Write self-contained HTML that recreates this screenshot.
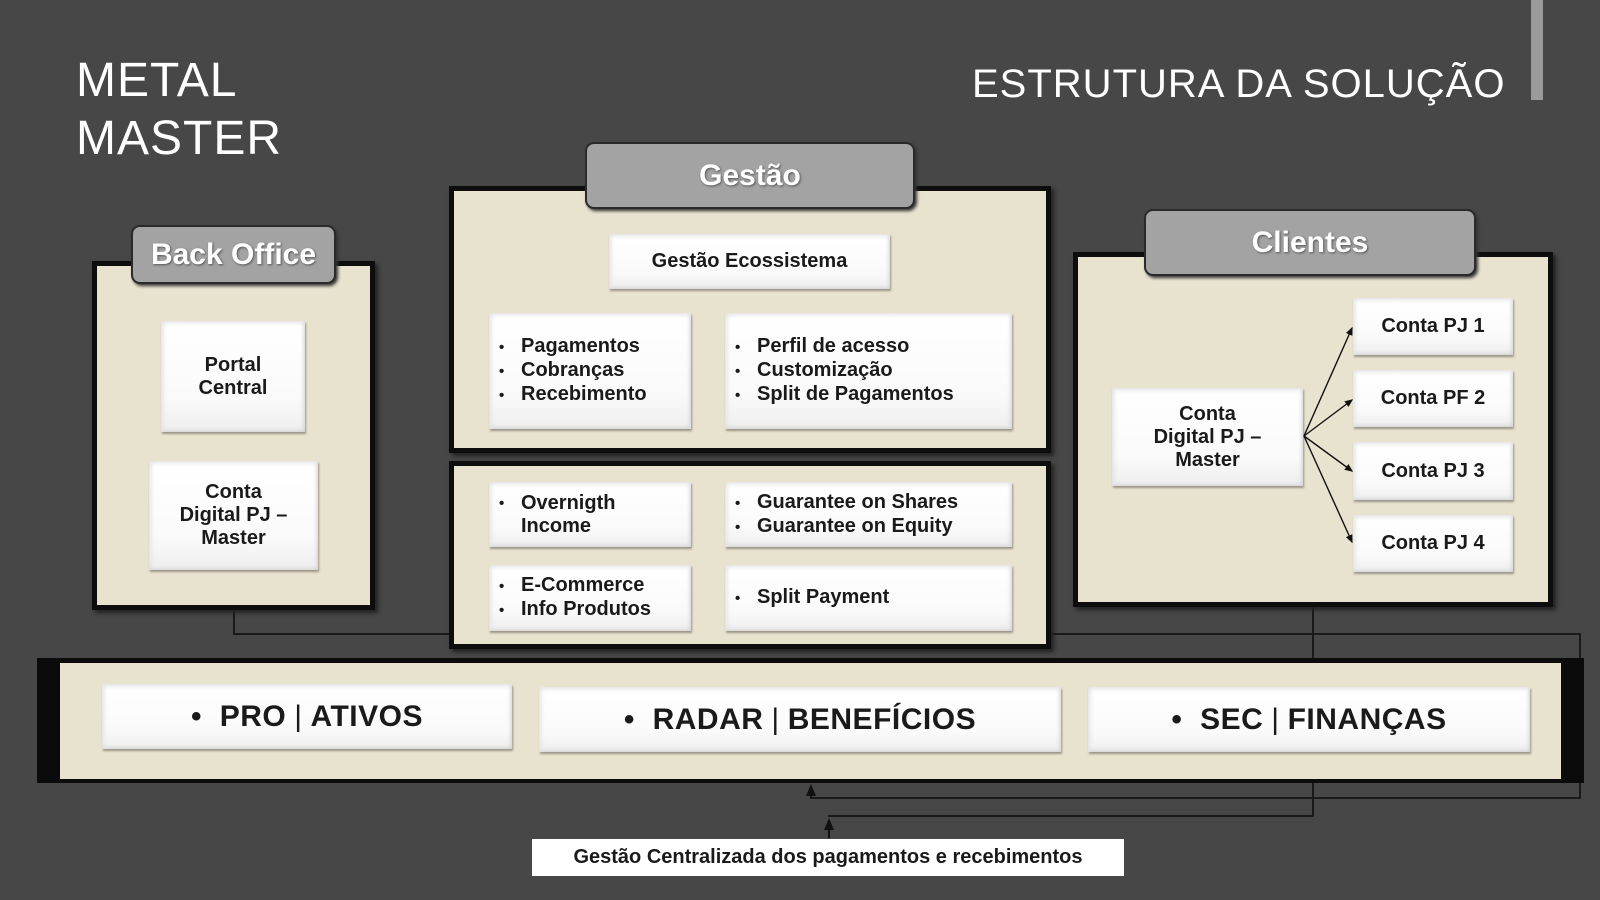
<!DOCTYPE html>
<html><head><meta charset="utf-8"><style>
*{margin:0;padding:0;box-sizing:border-box}
body{width:1600px;height:900px;background:#474747;position:relative;overflow:hidden;font-family:"Liberation Sans",sans-serif}
.a{position:absolute}
.panel{position:absolute;background:#e8e3cf;border:5px solid #0d0d0d;box-shadow:3px 3px 4px #222}
.tab{position:absolute;background:#a3a3a3;border:2px solid #2a2a2a;border-radius:9px;color:#fff;font-weight:bold;display:flex;align-items:center;justify-content:center;text-shadow:1px 1px 2px #555;box-shadow:2px 2px 3px #333}
.box{position:absolute;background:linear-gradient(180deg,#fff 0%,#fafafa 70%,#eee 100%);box-shadow:inset 4px 4px 5px -2px #e2e2e2,inset -3px -3px 4px -2px #cfcfcf,1px 2px 2px #9a9588;color:#1a1a1a;font-weight:bold;font-size:20px;display:flex;align-items:center;justify-content:center;text-align:center;line-height:23px}
.box ul{list-style:none;text-align:left;width:100%;padding-left:10px}
.box li:before{content:"•";display:inline-block;width:22px;font-size:15px}
.big{font-size:30px;letter-spacing:.5px}
.line{position:absolute;background:#1a1a1a}
</style></head><body>
<div class="a" style="left:1531px;top:0;width:12px;height:100px;background:#9b9b9b"></div>
<div class="a" style="left:76px;top:52px;color:#fff;font-size:48px;line-height:58px;font-weight:300;letter-spacing:1px">METAL<br>MASTER</div>
<div class="a" style="left:972px;top:62px;color:#fff;font-size:40px;letter-spacing:1px;font-weight:300">ESTRUTURA DA SOLUÇÃO</div>

<div class="line" style="left:233px;top:608px;width:2px;height:27px"></div>
<div class="line" style="left:233px;top:633px;width:218px;height:2px"></div>
<div class="line" style="left:1051px;top:633px;width:530px;height:2px"></div>
<div class="line" style="left:1579px;top:633px;width:2px;height:166px"></div>
<div class="line" style="left:1312px;top:606px;width:2px;height:54px"></div>
<div class="line" style="left:810px;top:797px;width:771px;height:2px"></div>
<div class="line" style="left:1312px;top:780px;width:2px;height:37px"></div>
<div class="line" style="left:828px;top:815px;width:486px;height:2px"></div>
<svg class="a" style="left:0;top:0" width="1600" height="900">
<defs><marker id="ar" markerWidth="6" markerHeight="6" refX="5" refY="3" orient="auto"><path d="M0,0.5 L6,3 L0,5.5z" fill="#111"/></marker></defs>
<line x1="811" y1="798" x2="811" y2="786" stroke="#111" stroke-width="2" marker-end="url(#ar)"/>
<line x1="829" y1="838" x2="829" y2="820" stroke="#111" stroke-width="2" marker-end="url(#ar)"/>
</svg>

<div class="panel" style="left:92px;top:261px;width:283px;height:349px"></div>
<div class="tab" style="left:131px;top:225px;width:205px;height:59px;font-size:30px">Back Office</div>
<div class="box" style="left:161px;top:321px;width:144px;height:111px">Portal<br>Central</div>
<div class="box" style="left:149px;top:461px;width:169px;height:109px">Conta<br>Digital PJ –<br>Master</div>

<div class="panel" style="left:449px;top:186px;width:602px;height:267px"></div>
<div class="tab" style="left:585px;top:142px;width:330px;height:67px;font-size:30px">Gestão</div>
<div class="box" style="left:609px;top:234px;width:281px;height:55px">Gestão Ecossistema</div>
<div class="box" style="left:489px;top:313px;width:202px;height:116px"><ul><li>Pagamentos</li><li>Cobranças</li><li>Recebimento</li></ul></div>
<div class="box" style="left:725px;top:313px;width:287px;height:116px"><ul><li>Perfil de acesso</li><li>Customização</li><li>Split de Pagamentos</li></ul></div>

<div class="panel" style="left:449px;top:461px;width:602px;height:188px"></div>
<div class="box" style="left:489px;top:482px;width:202px;height:65px;justify-content:flex-start;padding-left:10px"><div style="display:flex;text-align:left"><span style="width:22px;font-size:15px">•</span><span>Overnigth<br>Income</span></div></div>
<div class="box" style="left:725px;top:482px;width:287px;height:65px"><ul><li>Guarantee on Shares</li><li>Guarantee on Equity</li></ul></div>
<div class="box" style="left:489px;top:565px;width:202px;height:66px"><ul><li>E-Commerce</li><li>Info Produtos</li></ul></div>
<div class="box" style="left:725px;top:565px;width:287px;height:66px"><ul><li>Split Payment</li></ul></div>

<div class="panel" style="left:1073px;top:252px;width:480px;height:355px"></div>
<div class="tab" style="left:1144px;top:209px;width:332px;height:67px;font-size:30px">Clientes</div>
<div class="box" style="left:1112px;top:388px;width:191px;height:98px">Conta<br>Digital PJ –<br>Master</div>
<div class="box" style="left:1353px;top:298px;width:160px;height:57px">Conta PJ 1</div>
<div class="box" style="left:1353px;top:370px;width:160px;height:57px">Conta PF 2</div>
<div class="box" style="left:1353px;top:442px;width:160px;height:58px">Conta PJ 3</div>
<div class="box" style="left:1353px;top:515px;width:160px;height:57px">Conta PJ 4</div>
<svg class="a" style="left:0;top:0" width="1600" height="900">
<g stroke="#111" stroke-width="1.4" marker-end="url(#ar)">
<line x1="1304" y1="436" x2="1352" y2="328"/>
<line x1="1304" y1="436" x2="1352" y2="400"/>
<line x1="1304" y1="436" x2="1352" y2="471"/>
<line x1="1304" y1="436" x2="1352" y2="542"/>
</g></svg>

<div class="a" style="left:37px;top:658px;width:1547px;height:125px;background:#0b0b0b"></div>
<div class="a" style="left:60px;top:663px;width:1501px;height:116px;background:#e8e3cf"></div>
<div class="box big" style="left:102px;top:684px;width:410px;height:65px">•&nbsp; PRO <span style="font-weight:normal;margin:0 8px">|</span> ATIVOS</div>
<div class="box big" style="left:539px;top:687px;width:522px;height:65px">•&nbsp; RADAR <span style="font-weight:normal;margin:0 8px">|</span> BENEFÍCIOS</div>
<div class="box big" style="left:1088px;top:687px;width:442px;height:65px">•&nbsp; SEC <span style="font-weight:normal;margin:0 8px">|</span> FINANÇAS</div>

<div class="a" style="left:532px;top:839px;width:592px;height:37px;background:#fff;color:#1a1a1a;font-weight:bold;font-size:20px;display:flex;align-items:center;justify-content:center">Gestão Centralizada dos pagamentos e recebimentos</div>
</body></html>
